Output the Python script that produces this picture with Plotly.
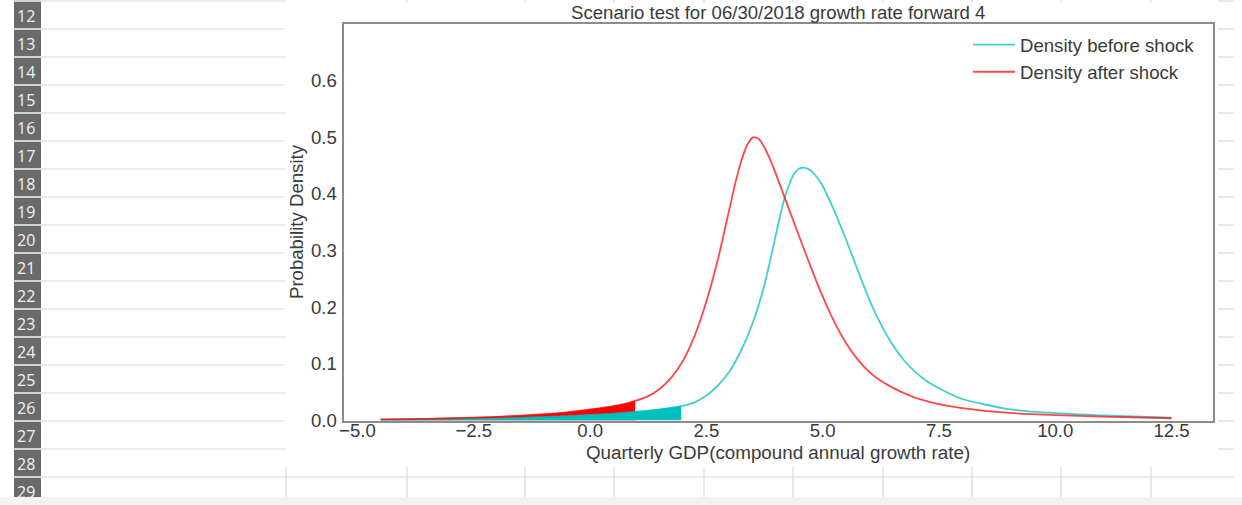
import plotly.graph_objects as go

W, H = 1242, 505

# ---------------- data ----------------
after_x = [-4.5, -4.0, -3.5, -3.0, -2.5, -2.0, -1.5, -1.0, -0.5, 0.0,
           0.5, 0.75, 0.97, 1.25, 1.5, 1.75, 2.0, 2.25, 2.5, 2.75,
           3.0, 3.125, 3.25, 3.375, 3.5, 3.625, 3.75, 3.875, 4.0, 4.25,
           4.5, 4.75, 5.0, 5.25, 5.5, 5.75, 6.0, 6.25, 6.5, 7.0,
           7.5, 8.0, 9.0, 10.0, 11.0, 12.5]
after_y = [0.002, 0.0025, 0.003, 0.004, 0.005, 0.0065, 0.0085, 0.011, 0.0145, 0.0195,
           0.0255, 0.0295, 0.0345, 0.043, 0.056, 0.076, 0.106, 0.150, 0.210, 0.285,
           0.375, 0.420, 0.458, 0.486, 0.500, 0.497, 0.482, 0.460, 0.434, 0.379,
           0.324, 0.270, 0.219, 0.174, 0.137, 0.108, 0.086, 0.070, 0.058, 0.040,
           0.029, 0.022, 0.0135, 0.0095, 0.0068, 0.004]

before_x = [-4.5, -4.0, -3.5, -3.0, -2.5, -2.0, -1.5, -1.0, -0.5, 0.0,
            0.5, 1.0, 1.5, 1.96, 2.25, 2.5, 2.75, 3.0, 3.25, 3.5,
            3.75, 4.0, 4.125, 4.25, 4.375, 4.5, 4.625, 4.75, 4.875, 5.0,
            5.25, 5.5, 5.75, 6.0, 6.25, 6.5, 6.75, 7.0, 7.25, 7.5,
            8.0, 9.0, 10.0, 11.0, 12.5]
before_y = [0.001, 0.0013, 0.0017, 0.0022, 0.0028, 0.0036, 0.0046, 0.006, 0.0077, 0.0097,
            0.012, 0.0155, 0.0198, 0.0255, 0.032, 0.044, 0.062, 0.087, 0.124, 0.173,
            0.240, 0.330, 0.375, 0.410, 0.434, 0.445, 0.446, 0.441, 0.430, 0.414,
            0.370, 0.320, 0.266, 0.214, 0.170, 0.134, 0.106, 0.085, 0.069, 0.057,
            0.038, 0.020, 0.013, 0.009, 0.005]

after_cut = 0.97     # shaded left tail of "after shock"
before_cut = 1.96    # shaded left tail of "before shock"

x_ticks = [-5.0, -2.5, 0.0, 2.5, 5.0, 7.5, 10.0, 12.5]
y_ticks = [0.0, 0.1, 0.2, 0.3, 0.4, 0.5, 0.6]
row_numbers = list(range(12, 30))

title_text = "Scenario test for 06/30/2018 growth rate forward 4"
x_title = "Quarterly GDP(compound annual growth rate)"
y_title = "Probability Density"
names = ["Density before shock", "Density after shock"]

# ---------------- helpers ----------------
def px(x):
    return x / W

def py(y):
    return 1 - y / H

FONT = "Liberation Sans, Arial, sans-serif"
FS = 18.6
TXT = "#3a3a3a"
CYAN_FILL = "#00bfbf"
RED_FILL = "#ff0000"
CYAN_LINE = "rgba(0,191,191,0.75)"
RED_LINE = "rgba(255,0,0,0.72)"

fig = go.Figure()

# shaded tails
ax = [x for x in after_x if x <= after_cut]
ay = [y for x, y in zip(after_x, after_y) if x <= after_cut]
bx = [x for x in before_x if x <= before_cut]
by = [y for x, y in zip(before_x, before_y) if x <= before_cut]

fig.add_trace(go.Scatter(x=ax, y=ay, mode="lines",
                         line=dict(color=RED_FILL, width=0.5, shape="spline", smoothing=0.6),
                         fill="tozeroy", fillcolor=RED_FILL, showlegend=False, hoverinfo="skip"))
fig.add_trace(go.Scatter(x=bx, y=by, mode="lines",
                         line=dict(color=CYAN_FILL, width=0.5, shape="spline", smoothing=0.6),
                         fill="tozeroy", fillcolor=CYAN_FILL, showlegend=False, hoverinfo="skip"))

# density lines
fig.add_trace(go.Scatter(x=before_x, y=before_y, mode="lines", name=names[0],
                         line=dict(color=CYAN_LINE, width=1.8, shape="spline", smoothing=0.6)))
fig.add_trace(go.Scatter(x=after_x, y=after_y, mode="lines", name=names[1],
                         line=dict(color=RED_LINE, width=1.8, shape="spline", smoothing=0.6)))

# ---------------- spreadsheet background ----------------
shapes = []
GRID = "#d9d9d9"
row_lines = [1 + 28 * k for k in range(len(row_numbers))]
shapes.append(dict(type="rect", xref="paper", yref="paper", x0=0, x1=1, y0=py(505), y1=py(497),
                   fillcolor="#f3f3f3", line=dict(width=0), layer="below"))
shapes.append(dict(type="rect", xref="paper", yref="paper", x0=px(14), x1=px(41), y0=py(497), y1=py(0),
                   fillcolor="#6a6a6a", line=dict(width=0), layer="below"))
for yl in row_lines:
    shapes.append(dict(type="line", xref="paper", yref="paper", x0=px(14), x1=px(41), y0=py(yl), y1=py(yl),
                       line=dict(color="#d0d0d0", width=2), layer="below"))
    if yl < 470:
        shapes.append(dict(type="line", xref="paper", yref="paper", x0=px(41), x1=px(285), y0=py(yl), y1=py(yl),
                           line=dict(color=GRID, width=1.2), layer="below"))
        shapes.append(dict(type="line", xref="paper", yref="paper", x0=px(1218), x1=px(1234), y0=py(yl), y1=py(yl),
                           line=dict(color=GRID, width=1.2), layer="below"))
    else:
        shapes.append(dict(type="line", xref="paper", yref="paper", x0=px(41), x1=px(1234), y0=py(yl), y1=py(yl),
                           line=dict(color=GRID, width=1.2), layer="below"))
col_lines = [286, 407, 525, 614, 704, 793, 883, 972, 1061, 1151]
for xc in col_lines:
    shapes.append(dict(type="line", xref="paper", yref="paper", x0=px(xc), x1=px(xc), y0=py(467), y1=py(497),
                       line=dict(color=GRID, width=1.2), layer="below"))
    if xc > 300:
        shapes.append(dict(type="line", xref="paper", yref="paper", x0=px(xc), x1=px(xc), y0=py(0), y1=py(2.5),
                           line=dict(color=GRID, width=1.2), layer="below"))

annotations = []
for n, yl in zip(row_numbers, row_lines):
    annotations.append(dict(text=str(n), xref="paper", yref="paper", x=px(15), y=py(yl + 15),
                            xanchor="left", yanchor="middle", showarrow=False,
                            font=dict(family="Open Sans, Noto Sans, sans-serif", size=16, color="#f2f2f2")))

annotations.append(dict(text=title_text, xref="paper", yref="paper", x=px(778), y=py(12),
                        xanchor="center", yanchor="middle", showarrow=False,
                        font=dict(family=FONT, size=FS, color=TXT)))
annotations.append(dict(text=x_title, xref="paper", yref="paper", x=px(778), y=py(452),
                        xanchor="center", yanchor="middle", showarrow=False,
                        font=dict(family=FONT, size=18.8, color=TXT)))
annotations.append(dict(text=y_title, xref="paper", yref="paper", x=px(297), y=py(222),
                        xanchor="center", yanchor="middle", showarrow=False, textangle=-90,
                        font=dict(family=FONT, size=FS, color=TXT)))

fig.update_layout(
    width=W, height=H,
    margin=dict(l=0, r=0, t=0, b=0, pad=0),
    paper_bgcolor="white", plot_bgcolor="white",
    font=dict(family=FONT, size=FS, color=TXT),
    shapes=shapes, annotations=annotations,
    showlegend=True,
    legend=dict(x=px(968), y=py(26), xanchor="left", yanchor="top",
                bgcolor="rgba(0,0,0,0)", borderwidth=0, itemwidth=42,
                font=dict(family=FONT, size=FS, color=TXT)),
    xaxis=dict(domain=[px(343.5), px(1212.5)], range=[-5.30, 13.38], automargin=False,
               tickvals=x_ticks, tickformat=".1f", showgrid=False, zeroline=False,
               showline=True, linecolor="#8c8c8c", linewidth=1.8, mirror=True,
               ticks="", ticklen=0, ticklabelstandoff=-8,
               tickfont=dict(family=FONT, size=FS, color=TXT)),
    yaxis=dict(domain=[py(420.5), py(24)], range=[0, 0.70], automargin=False,
               tickvals=y_ticks, tickformat=".1f", showgrid=False, zeroline=False,
               showline=True, linecolor="#8c8c8c", linewidth=1.8, mirror=True,
               ticks="", ticklen=0, ticklabelstandoff=1,
               tickfont=dict(family=FONT, size=FS, color=TXT)),
)

fig.write_html("out.html")
